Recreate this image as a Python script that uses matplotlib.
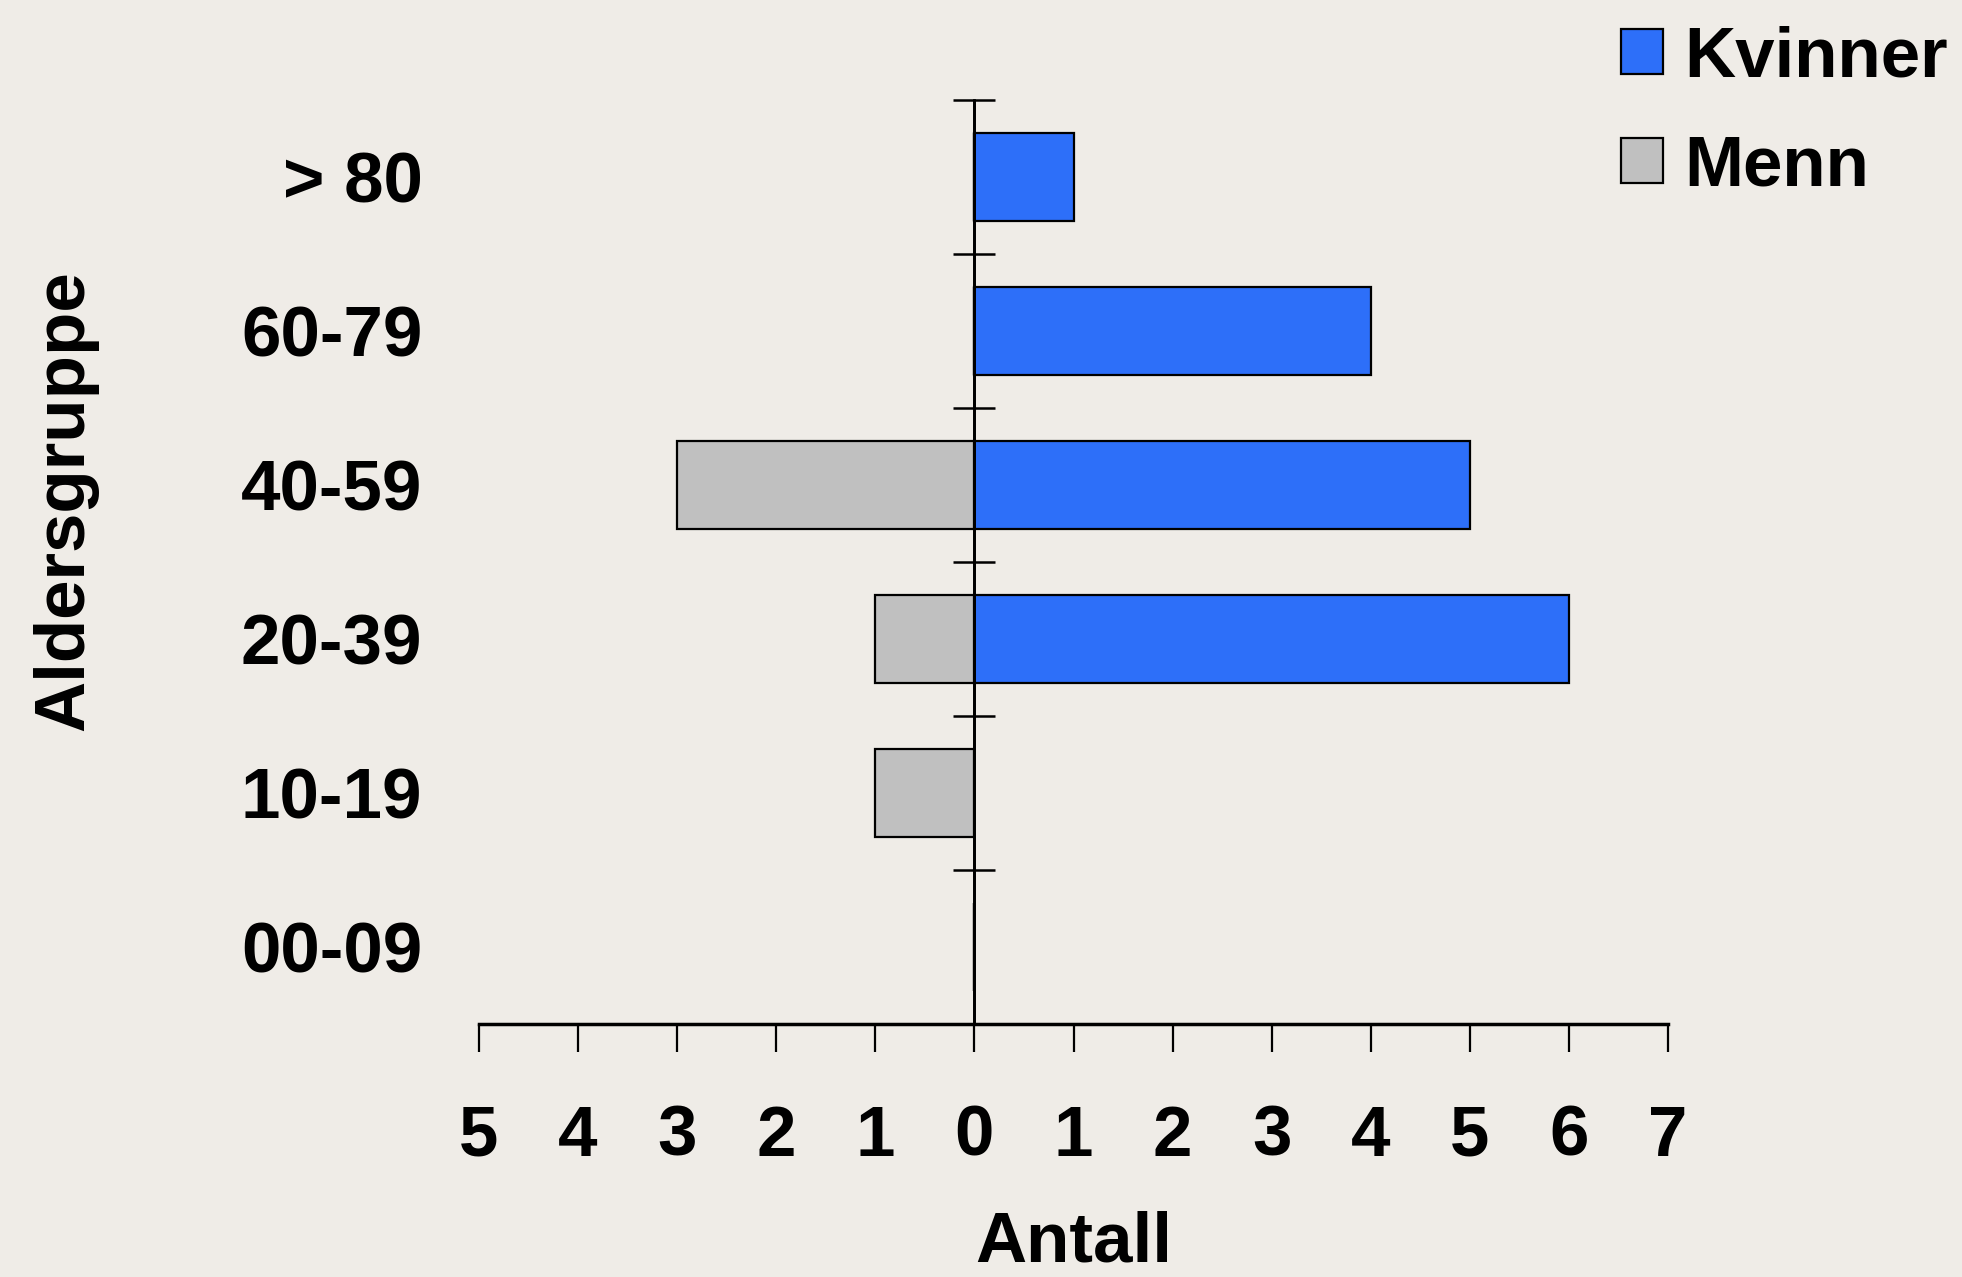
import matplotlib
matplotlib.use("Agg")
import matplotlib.pyplot as plt
import numpy as np

# Data
aldersgrupper = ["00-09", "10-19", "20-39", "40-59", "60-79", "> 80"]
kvinner = [0, 0, 6, 5, 4, 1]
menn = [0, 1, 1, 3, 0, 0]
xticks = [-5, -4, -3, -2, -1, 0, 1, 2, 3, 4, 5, 6, 7]

BG = "#efece7"
BLA = "#2d6ff9"
GRA = "#c0c0c0"
FS = 51

plt.rcParams["font.family"] = ["Liberation Sans", "DejaVu Sans"]
plt.rcParams["font.weight"] = "bold"

fig = plt.figure(figsize=(19.62, 12.77), dpi=100, facecolor=BG)
ax = fig.add_axes([0.2441, 0.1981, 0.6061, 0.7236], facecolor=BG)

y = np.arange(len(aldersgrupper))
hk = ax.barh(y, kvinner, height=0.57, color=BLA, edgecolor="black", linewidth=1.6, label="Kvinner", zorder=2)
hm = ax.barh(y, [-v for v in menn], height=0.57, color=GRA, edgecolor="black", linewidth=1.6, label="Menn", zorder=2)

ax.set_xlim(-5, 7)
ax.set_ylim(-0.5, len(aldersgrupper) - 0.5)

# spines
for s in ["top", "right"]:
    ax.spines[s].set_visible(False)
ax.spines["left"].set_position(("data", 0))
ax.spines["left"].set_linewidth(2.0)
ax.spines["left"].set_zorder(3)
ax.spines["bottom"].set_linewidth(2.5)
ax.axvline(0, color="black", lw=2.0, zorder=3)

# x ticks
ax.set_xticks(xticks)
ax.set_xticklabels([str(abs(v)) for v in xticks])
ax.tick_params(axis="x", direction="out", length=20, width=1.6, pad=38, labelsize=FS)

# y ticks at group boundaries, labels as text
ax.set_yticks(np.arange(-0.5, len(aldersgrupper), 1.0))
ax.set_yticklabels([])
ax.tick_params(axis="y", direction="inout", length=30, width=1.8)
for i, lab in enumerate(aldersgrupper):
    ax.text(-5.57, i - 0.05, lab, ha="right", va="center", fontsize=FS, fontweight="bold")

ax.set_xlabel("Antall", fontsize=FS, fontweight="bold", labelpad=29)
fig.text(0.033, 0.608, "Aldersgruppe", rotation=90, ha="center", va="center",
         fontsize=FS, fontweight="bold")

leg = fig.legend(handles=[hk, hm], loc="upper right", bbox_to_anchor=(0.993, 0.98),
                 frameon=False, fontsize=FS, handlelength=0.6, handleheight=0.6,
                 handletextpad=0.3, labelspacing=0.6, borderaxespad=0.0,
                 borderpad=0.0)
for t in leg.get_texts():
    t.set_fontweight("bold")

fig.savefig("out.png", dpi=100, facecolor=BG)
